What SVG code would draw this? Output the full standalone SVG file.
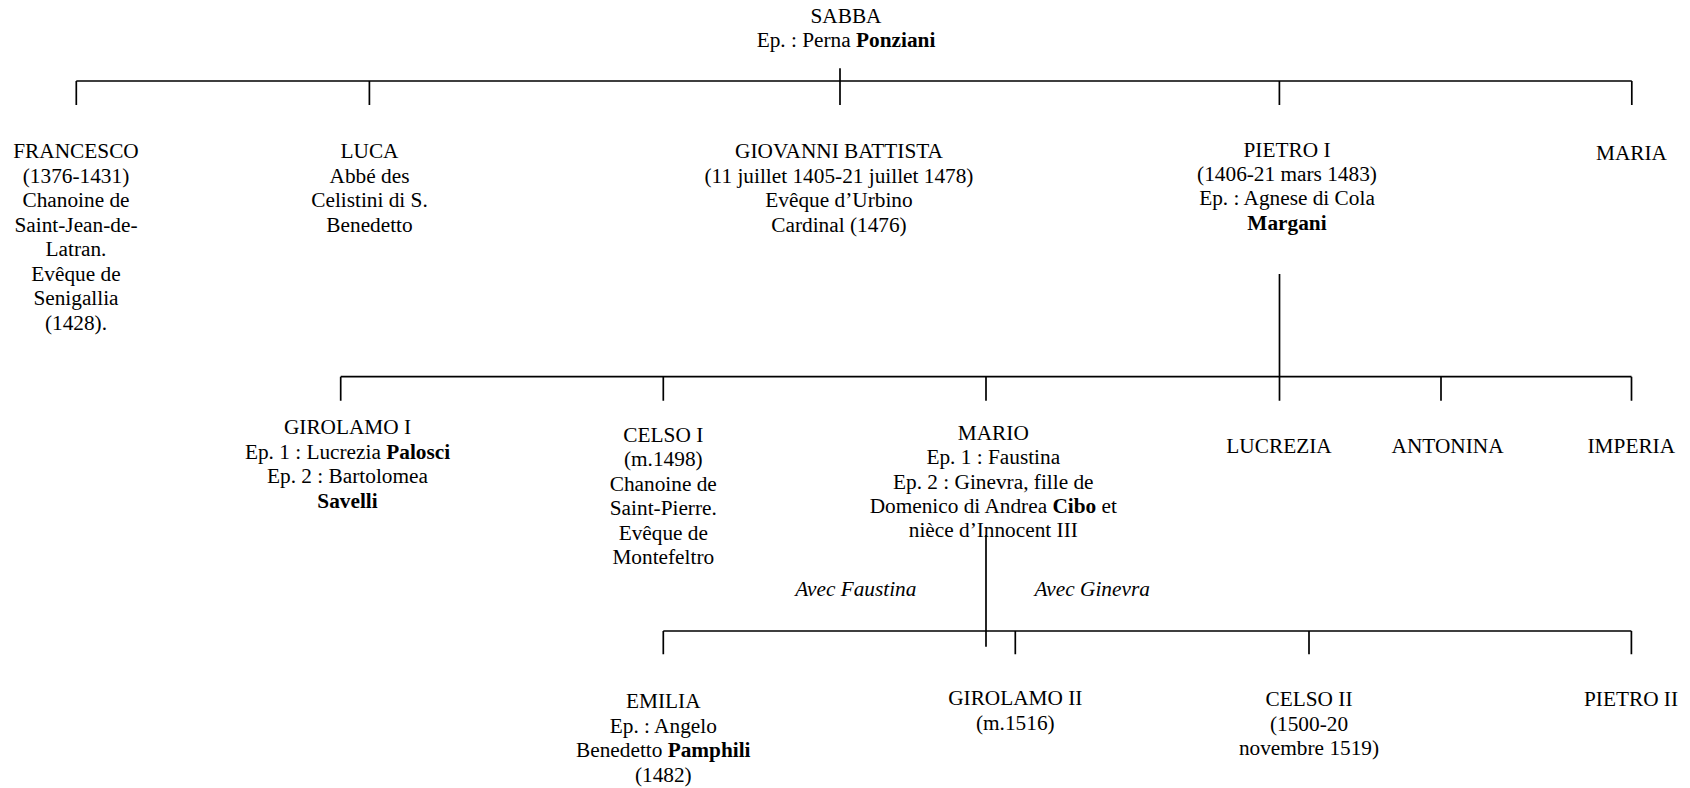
<svg xmlns="http://www.w3.org/2000/svg" width="1690" height="788" viewBox="0 0 1690 788">
<style>
text{font-family:"Liberation Serif","Times New Roman",serif;font-size:21.3px;fill:#000;text-anchor:middle}
.b{font-weight:bold}
.i{font-style:italic}
.ln{stroke:#000;stroke-width:1.7;fill:none;stroke-linecap:butt}
</style>
<rect width="1690" height="788" fill="#fff"/>
<g id="connectors" class="ln">
<path d="M840 68.3V105 M76.3 81H1631.8 M76.3 81V105 M369.4 81V105 M1279.4 81V105 M1631.8 81V105"/>
<path d="M1279.5 274V400.7 M340.7 376.7H1631.5 M340.7 376.7V400.7 M663.3 376.7V400.7 M986 376.7V400.7 M1441 376.7V400.7 M1631.5 376.7V400.7"/>
<path d="M986 535V646.7 M663.3 631H1631.4 M663.3 631V654.3 M1015.3 631V654.3 M1309 631V654.3 M1631.4 631V654.3"/>
</g>
<g id="node-sabba">
<text x="846" y="23.3">SABBA</text>
<text x="846" y="46.7">Ep. : Perna <tspan class="b">Ponziani</tspan></text>
</g>
<g id="node-francesco">
<text x="76" y="158.3">FRANCESCO</text>
<text x="76" y="182.8">(1376-1431)</text>
<text x="76" y="207.3">Chanoine de</text>
<text x="76" y="231.8">Saint-Jean-de-</text>
<text x="76" y="256.3">Latran.</text>
<text x="76" y="280.8">Evêque de</text>
<text x="76" y="305.3">Senigallia</text>
<text x="76" y="329.8">(1428).</text>
</g>
<g id="node-luca">
<text x="369.5" y="158.3">LUCA</text>
<text x="369.5" y="182.8">Abbé des</text>
<text x="369.5" y="207.3">Celistini di S.</text>
<text x="369.5" y="231.8">Benedetto</text>
</g>
<g id="node-giovanni">
<text x="839" y="158.3">GIOVANNI BATTISTA</text>
<text x="839" y="182.8">(11 juillet 1405-21 juillet 1478)</text>
<text x="839" y="207.3">Evêque d’Urbino</text>
<text x="839" y="231.8">Cardinal (1476)</text>
</g>
<g id="node-pietro1">
<text x="1287" y="157">PIETRO I</text>
<text x="1287" y="181.2">(1406-21 mars 1483)</text>
<text x="1287" y="205.4">Ep. : Agnese di Cola</text>
<text x="1287" y="229.6" class="b">Margani</text>
</g>
<g id="node-maria">
<text x="1631.5" y="159.5">MARIA</text>
</g>
<g id="node-girolamo1">
<text x="347.5" y="434">GIROLAMO I</text>
<text x="347.5" y="458.7">Ep. 1 : Lucrezia <tspan class="b">Palosci</tspan></text>
<text x="347.5" y="483.3">Ep. 2 : Bartolomea</text>
<text x="347.5" y="508" class="b">Savelli</text>
</g>
<g id="node-celso1">
<text x="663.3" y="441.7">CELSO I</text>
<text x="663.3" y="466.2">(m.1498)</text>
<text x="663.3" y="490.7">Chanoine de</text>
<text x="663.3" y="515.2">Saint-Pierre.</text>
<text x="663.3" y="539.7">Evêque de</text>
<text x="663.3" y="564.2">Montefeltro</text>
</g>
<g id="node-mario">
<text x="993.3" y="440">MARIO</text>
<text x="993.3" y="464.3">Ep. 1 : Faustina</text>
<text x="993.3" y="488.6">Ep. 2 : Ginevra, fille de</text>
<text x="993.3" y="512.9">Domenico di Andrea <tspan class="b">Cibo</tspan> et</text>
<text x="993.3" y="537.2">nièce d’Innocent III</text>
</g>
<g id="node-lucrezia"><text x="1279" y="452.7">LUCREZIA</text></g>
<g id="node-antonina"><text x="1447.6" y="452.7">ANTONINA</text></g>
<g id="node-imperia"><text x="1631.3" y="452.7">IMPERIA</text></g>
<g id="label-faustina"><text x="855.8" y="596" class="i">Avec Faustina</text></g>
<g id="label-ginevra"><text x="1092.2" y="596" class="i">Avec Ginevra</text></g>
<g id="node-emilia">
<text x="663.3" y="708.3">EMILIA</text>
<text x="663.3" y="732.7">Ep. : Angelo</text>
<text x="663.3" y="757.1">Benedetto <tspan class="b">Pamphili</tspan></text>
<text x="663.3" y="781.5">(1482)</text>
</g>
<g id="node-girolamo2">
<text x="1015.3" y="705">GIROLAMO II</text>
<text x="1015.3" y="729.5">(m.1516)</text>
</g>
<g id="node-celso2">
<text x="1309" y="706">CELSO II</text>
<text x="1309" y="730.5">(1500-20</text>
<text x="1309" y="755">novembre 1519)</text>
</g>
<g id="node-pietro2"><text x="1631" y="706">PIETRO II</text></g>
</svg>
